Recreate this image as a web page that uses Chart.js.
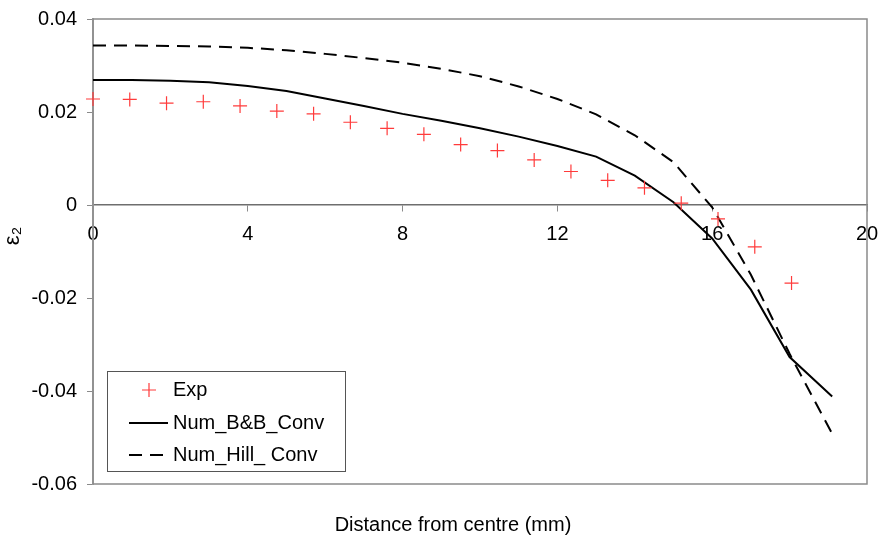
<!DOCTYPE html>
<html>
<head>
<meta charset="utf-8">
<script src="https://cdn.jsdelivr.net/npm/chart.js@4"></script>
<style>
  html, body { margin: 0; padding: 0; background: #fff; }
  #wrap { width: 882px; height: 539px; }
</style>
</head>
<body>
<div id="wrap"><canvas id="strainChart" width="882" height="539"></canvas></div>
<script>
// experimental points
const expX = [0, 0.95, 1.9, 2.85, 3.8, 4.75, 5.7, 6.65, 7.6, 8.55, 9.5, 10.45, 11.4, 12.35, 13.3, 14.25, 15.2, 16.15, 17.1, 18.05];
const expY = [0.0228, 0.0227, 0.0219, 0.0222, 0.0213, 0.0202, 0.0196, 0.0178, 0.0165, 0.0152, 0.0130, 0.0117, 0.0097, 0.0072, 0.0053, 0.0037, 0.0004, -0.0030, -0.0090, -0.0168];

// numerical curves
const numX = [0, 1, 2, 3, 4, 5, 6, 7, 8, 9, 10, 11, 12, 13, 14, 15, 16, 17, 18, 19.1];
const bbY = [0.0269, 0.0269, 0.0267, 0.0264, 0.0256, 0.0245, 0.0229, 0.0213, 0.0196, 0.0181, 0.0165, 0.0147, 0.0127, 0.0104, 0.0063, 0.0006, -0.0072, -0.0182, -0.0327, -0.0412];
const hillY = [0.0343, 0.0343, 0.0342, 0.0341, 0.0338, 0.0333, 0.0325, 0.0316, 0.0306, 0.0293, 0.0277, 0.0255, 0.0228, 0.0195, 0.0150, 0.0092, -0.0005, -0.0150, -0.0320, -0.0492];

const xTicks = [0, 4, 8, 12, 16, 20];
const yTicks = [-0.06, -0.04, -0.02, 0, 0.02, 0.04];

const FONT = "'Liberation Sans', Arial, sans-serif";

function pts(xs, ys) {
  return xs.map((x, i) => ({ x: x, y: ys[i] }));
}

// plot frame (top/right/bottom border)
const frame = {
  id: "frame",
  beforeDatasetsDraw(chart) {
    const a = chart.chartArea;
    const c = chart.ctx;
    c.save();
    c.strokeStyle = "#8a8a8a";
    c.lineWidth = 1.5;
    c.strokeRect(a.left, a.top, a.right - a.left, a.bottom - a.top);
    c.restore();
  }
};

// axis titles + legend box inside the plot
const extras = {
  id: "extras",
  afterDraw(chart) {
    const c = chart.ctx;
    c.save();
    c.fillStyle = "#000";
    c.font = "20px " + FONT;
    c.textAlign = "center";
    c.textBaseline = "middle";
    c.fillText("Distance from centre (mm)", 453, 525);

    c.translate(13, 236);
    c.rotate(-Math.PI / 2);
    c.font = "22px " + FONT;
    c.fillText("ε₂", 0, 0);
    c.restore();

    // legend
    c.save();
    c.fillStyle = "#fff";
    c.fillRect(107, 371, 238, 100);
    c.strokeStyle = "#555";
    c.lineWidth = 1;
    c.strokeRect(107.5, 371.5, 238, 100);
    c.font = "20px " + FONT;
    c.textBaseline = "middle";
    c.textAlign = "left";
    const rows = [390, 423, 455];
    chart.data.datasets.forEach((ds, i) => {
      const y = rows[i];
      if (ds.showLine === false) {
        c.strokeStyle = ds.borderColor;
        c.lineWidth = 1.2;
        c.beginPath();
        c.moveTo(142, y); c.lineTo(156, y);
        c.moveTo(149, y - 7); c.lineTo(149, y + 7);
        c.stroke();
      } else {
        c.strokeStyle = ds.borderColor;
        c.lineWidth = 2;
        c.setLineDash(ds.borderDash || []);
        c.beginPath();
        c.moveTo(129, y); c.lineTo(168, y);
        c.stroke();
        c.setLineDash([]);
      }
      c.fillStyle = "#000";
      c.fillText(ds.label, 173, y);
    });
    c.restore();
  }
};

const ctx = document.getElementById("strainChart").getContext("2d");

new Chart(ctx, {
  type: "scatter",
  data: {
    datasets: [
      {
        label: "Exp",
        data: pts(expX, expY),
        showLine: false,
        clip: false,
        pointStyle: "cross",
        pointRadius: 7,
        pointBorderWidth: 1.2,
        borderColor: "#ff3b3b",
        backgroundColor: "#ff3b3b"
      },
      {
        label: "Num_B&B_Conv",
        data: pts(numX, bbY),
        showLine: true,
        pointRadius: 0,
        borderColor: "#000",
        borderWidth: 2,
        tension: 0
      },
      {
        label: "Num_Hill_ Conv",
        data: pts(numX, hillY),
        showLine: true,
        pointRadius: 0,
        borderColor: "#000",
        borderWidth: 2,
        borderDash: [13, 8],
        tension: 0
      }
    ]
  },
  options: {
    responsive: false,
    animation: false,
    layout: { padding: { top: 19, right: 15, bottom: 55, left: 0 } },
    plugins: {
      legend: { display: false },
      tooltip: { enabled: false }
    },
    scales: {
      x: {
        type: "linear",
        position: { y: 0 },
        min: 0,
        max: 20,
        afterBuildTicks(scale) {
          scale.ticks = xTicks.map(v => ({ value: v }));
        },
        afterFit(scale) {
          scale.paddingLeft = 0;
          scale.paddingRight = 0;
        },
        grid: {
          drawOnChartArea: false,
          drawTicks: true,
          tickLength: 6,
          color: "#8a8a8a"
        },
        border: { display: true, color: "#6e6e6e", width: 1.5 },
        ticks: {
          color: "#000",
          font: { family: FONT, size: 20 },
          padding: 11,
          maxRotation: 0,
          callback: v => String(v)
        }
      },
      y: {
        type: "linear",
        position: "left",
        min: -0.06,
        max: 0.04,
        afterBuildTicks(scale) {
          scale.ticks = yTicks.map(v => ({ value: v }));
        },
        afterFit(scale) {
          scale.width = 93;
          scale.paddingTop = 0;
          scale.paddingBottom = 0;
        },
        grid: {
          drawOnChartArea: false,
          drawTicks: true,
          tickLength: 6,
          color: "#8a8a8a"
        },
        border: { display: true, color: "#a8a8a8", width: 2 },
        ticks: {
          color: "#000",
          font: { family: FONT, size: 20 },
          padding: 10,
          callback: v => String(Number(v.toFixed(2)))
        }
      }
    }
  },
  plugins: [frame, extras]
});
</script>
</body>
</html>
